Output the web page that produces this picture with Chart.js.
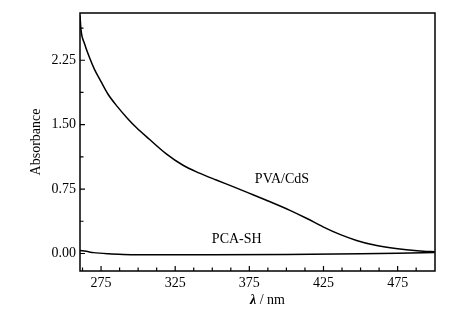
<!DOCTYPE html>
<html>
<head>
<meta charset="utf-8">
<script src="https://cdn.jsdelivr.net/npm/chart.js@4/dist/chart.umd.min.js"></script>
<style>
	html, body { margin: 0; padding: 0; background: #fff; }
	#wrap { width: 473px; height: 325px; }
</style>
</head>
<body>
<div id="wrap"><canvas id="chart" width="473" height="325"></canvas></div>
<script>
// absorbance spectra
const pvaWavelength = [260.8, 261.5, 263.7, 267, 270.4, 275, 279.5, 286, 293, 298.6, 307.6, 319, 330, 341.4, 352.7, 364, 375.2, 386.5, 402, 413.5, 424.7, 436, 447.3, 458.5, 470, 481, 492.3, 500];
const pvaAbsorbance = [2.77, 2.60, 2.45, 2.29, 2.15, 2.00, 1.86, 1.71, 1.57, 1.47, 1.33, 1.16, 1.03, 0.935, 0.855, 0.778, 0.70, 0.62, 0.505, 0.41, 0.31, 0.222, 0.152, 0.101, 0.066, 0.043, 0.027, 0.02];

const pcaWavelength = [260.8, 265, 270, 280, 290, 300, 350, 400, 450, 475, 500];
const pcaAbsorbance = [0.035, 0.025, 0.01, -0.004, -0.011, -0.014, -0.015, -0.012, -0.004, 0.003, 0.012];

// ticks
const xMajor = [275, 325, 375, 425, 475];
const xMinor = [262.5, 287.5, 300, 312.5, 337.5, 350, 362.5, 387.5, 400, 412.5, 437.5, 450, 462.5, 487.5];
const yMajor = [0, 0.75, 1.5, 2.25];
const yMinor = [0.375, 1.125, 1.875, 2.625];

// text labels next to the curves, in data units
const curveLabels = [
	{ text: 'PVA/CdS', x: 397, y: 0.865 },
	{ text: 'PCA-SH', x: 366.5, y: 0.16 },
];

const serif = '"Liberation Serif", "Times New Roman", serif';

const toPoints = (xs, ys) => xs.map((x, i) => ({ x: x, y: ys[i] }));

const framePlugin = {
	id: 'frame',
	afterDatasetsDraw(chart) {
		const ctx = chart.ctx;
		const a = chart.chartArea;
		const xs = chart.scales.x;
		const ys = chart.scales.y;
		ctx.save();
		ctx.strokeStyle = '#000';
		ctx.lineWidth = 1.5;
		ctx.strokeRect(a.left, a.top, a.right - a.left, a.bottom - a.top);

		// inward tick marks
		ctx.lineWidth = 1.2;
		ctx.beginPath();
		for (let v of xMajor) {
			let px = xs.getPixelForValue(v);
			ctx.moveTo(px, a.bottom);
			ctx.lineTo(px, a.bottom - 5);
		}
		for (let v of xMinor) {
			let px = xs.getPixelForValue(v);
			ctx.moveTo(px, a.bottom);
			ctx.lineTo(px, a.bottom - 3.5);
		}
		for (let v of yMajor) {
			let py = ys.getPixelForValue(v);
			ctx.moveTo(a.left, py);
			ctx.lineTo(a.left + 5, py);
		}
		for (let v of yMinor) {
			let py = ys.getPixelForValue(v);
			ctx.moveTo(a.left, py);
			ctx.lineTo(a.left + 3.5, py);
		}
		ctx.stroke();

		// curve labels
		ctx.fillStyle = '#000';
		ctx.font = '14px ' + serif;
		ctx.textAlign = 'center';
		ctx.textBaseline = 'middle';
		for (let l of curveLabels) {
			ctx.fillText(l.text, xs.getPixelForValue(l.x), ys.getPixelForValue(l.y));
		}

		// x axis title with italic lambda
		const lam = 'λ';
		const rest = ' / nm';
		ctx.font = 'italic bold 14px ' + serif;
		let w1 = ctx.measureText(lam).width;
		ctx.font = '14px ' + serif;
		let w2 = ctx.measureText(rest).width;
		let cx = (a.left + a.right) / 2 + 10;
		let x0 = cx - (w1 + w2) / 2;
		ctx.textAlign = 'left';
		ctx.font = 'italic bold 14px ' + serif;
		ctx.fillText(lam, x0, 300);
		ctx.font = '14px ' + serif;
		ctx.fillText(rest, x0 + w1, 300);
		ctx.restore();
	},
};

const lineStyle = {
	borderColor: '#000',
	borderWidth: 1.5,
	pointRadius: 0,
	fill: false,
	cubicInterpolationMode: 'monotone',
};

new Chart(document.getElementById('chart'), {
	type: 'line',
	data: {
		datasets: [
			Object.assign({ label: 'PVA/CdS', data: toPoints(pvaWavelength, pvaAbsorbance) }, lineStyle),
			Object.assign({ label: 'PCA-SH', data: toPoints(pcaWavelength, pcaAbsorbance) }, lineStyle),
		],
	},
	options: {
		responsive: false,
		devicePixelRatio: 1,
		animation: false,
		layout: { padding: { top: 13, right: 38, left: 0, bottom: 0 } },
		plugins: {
			legend: { display: false },
			tooltip: { enabled: false },
		},
		scales: {
			x: {
				type: 'linear',
				min: 260.8,
				max: 500.2,
				grid: { display: false, drawTicks: false },
				border: { display: false },
				afterBuildTicks: (scale) => {
					scale.ticks = xMajor.map((v) => ({ value: v }));
				},
				afterFit: (scale) => {
					scale.height = 54;
				},
				ticks: {
					color: '#000',
					font: { family: serif, size: 14 },
					padding: 4,
					maxRotation: 0,
					callback: (v) => String(v),
				},
			},
			y: {
				type: 'linear',
				min: -0.204,
				max: 2.8,
				grid: { display: false, drawTicks: false },
				border: { display: false },
				afterBuildTicks: (scale) => {
					scale.ticks = yMajor.map((v) => ({ value: v }));
				},
				afterFit: (scale) => {
					scale.width = 80;
				},
				ticks: {
					color: '#000',
					font: { family: serif, size: 14 },
					padding: 4,
					callback: (v) => v.toFixed(2),
				},
				title: {
					display: true,
					text: 'Absorbance',
					color: '#000',
					font: { family: serif, size: 14 },
					padding: { top: 28, bottom: 0 },
				},
			},
		},
	},
	plugins: [framePlugin],
});
</script>
</body>
</html>
